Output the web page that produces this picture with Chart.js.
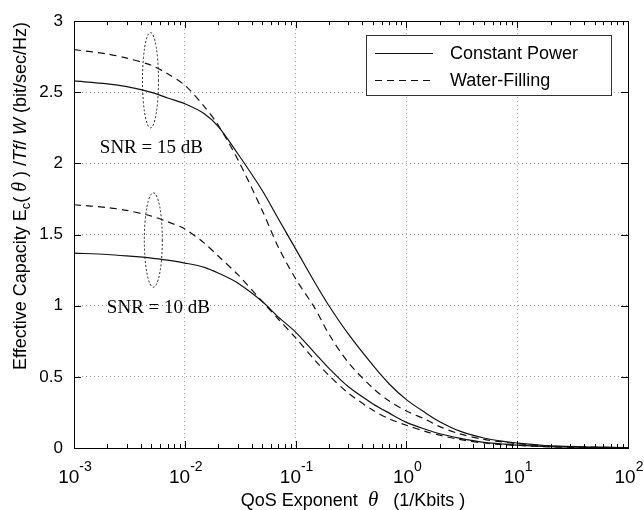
<!DOCTYPE html>
<html>
<head>
<meta charset="utf-8">
<script src="https://cdn.jsdelivr.net/npm/chart.js@4.4.0/dist/chart.umd.min.js"></script>
<style>
html, body { margin: 0; padding: 0; background: #fff; }
</style>
</head>
<body>
<canvas id="capacity-chart" width="644" height="510"></canvas>
<script>
// QoS exponent theta (1/Kbits)
const thetas = [0.001, 0.002, 0.003, 0.005, 0.007, 0.01, 0.015, 0.02, 0.03, 0.05, 0.07, 0.1, 0.15, 0.2, 0.3, 0.5, 0.7, 1, 1.5, 2, 3, 5, 7, 10, 20, 50, 100];

// effective capacity (bit/sec/Hz)
const cp15 = [2.58, 2.56, 2.54, 2.50, 2.46, 2.42, 2.35, 2.26, 2.07, 1.81, 1.61, 1.40, 1.16, 1.00, 0.80, 0.58, 0.45, 0.34, 0.245, 0.185, 0.12, 0.07, 0.05, 0.035, 0.015, 0.006, 0.003];
const wf15 = [2.80, 2.77, 2.74, 2.69, 2.63, 2.55, 2.40, 2.27, 2.03, 1.67, 1.41, 1.19, 0.98, 0.80, 0.60, 0.42, 0.33, 0.26, 0.20, 0.15, 0.10, 0.06, 0.045, 0.03, 0.013, 0.005, 0.003];
const cp10 = [1.37, 1.36, 1.35, 1.335, 1.32, 1.30, 1.27, 1.23, 1.16, 1.03, 0.92, 0.815, 0.665, 0.56, 0.43, 0.31, 0.245, 0.18, 0.13, 0.10, 0.07, 0.04, 0.03, 0.02, 0.009, 0.004, 0.002];
const wf10 = [1.71, 1.69, 1.67, 1.63, 1.59, 1.54, 1.44, 1.35, 1.22, 1.03, 0.905, 0.775, 0.615, 0.51, 0.385, 0.265, 0.205, 0.16, 0.115, 0.09, 0.06, 0.035, 0.025, 0.018, 0.008, 0.003, 0.002];

const yTicks = [0, 0.5, 1, 1.5, 2, 2.5, 3];
const xDecades = [-3, -2, -1, 0, 1, 2];
const legendLabels = ["Constant Power", "Water-Filling"];
const snrLabels = ["SNR = 15 dB", "SNR = 10 dB"];

const SANS = '"Liberation Sans", Arial, sans-serif';
const SERIF = '"Liberation Serif", "Times New Roman", serif';

function points(ys) {
    return thetas.map((t, i) => ({ x: t, y: ys[i] }));
}

function isDecade(v) {
    let e = Math.log10(v);
    return Math.abs(e - Math.round(e)) < 1e-6;
}

// all 1..9 x 10^n positions for the log axis
let xMinor = [];
for (let n = -3; n < 2; n++) {
    for (let k = 1; k < 10; k++) xMinor.push(k * Math.pow(10, n));
}
xMinor.push(100);

// draw a row of text pieces with their own fonts, centred on x
function drawRuns(ctx, runs, cx, y) {
    let total = 0;
    runs.forEach(r => { ctx.font = r.font; r.w = ctx.measureText(r.text).width; total += r.w; });
    let x = cx - total / 2;
    runs.forEach(r => {
        ctx.font = r.font;
        ctx.fillText(r.text, x, y + (r.dy || 0));
        x += r.w;
    });
}

const dashes = [7, 5];

const decorations = {
    id: 'decorations',
    afterDatasetsDraw(chart) {
        const ctx = chart.ctx;
        const a = chart.chartArea;
        const xs = chart.scales.x, ys = chart.scales.y;
        ctx.save();

        // frame
        ctx.strokeStyle = '#000';
        ctx.lineWidth = 1;
        ctx.setLineDash([]);
        ctx.strokeRect(Math.round(a.left) + 0.5, Math.round(a.top) + 0.5, Math.round(a.right - a.left), Math.round(a.bottom - a.top));

        // inward tick marks
        ctx.beginPath();
        xMinor.forEach(v => {
            let px = Math.round(xs.getPixelForValue(v)) + 0.5;
            let len = isDecade(v) ? 7 : 4;
            ctx.moveTo(px, a.bottom); ctx.lineTo(px, a.bottom - len);
            ctx.moveTo(px, a.top); ctx.lineTo(px, a.top + len);
        });
        yTicks.forEach(v => {
            let py = Math.round(ys.getPixelForValue(v)) + 0.5;
            ctx.moveTo(a.left, py); ctx.lineTo(a.left + 7, py);
            ctx.moveTo(a.right, py); ctx.lineTo(a.right - 7, py);
        });
        ctx.stroke();

        // x tick labels 10^n
        ctx.fillStyle = '#000';
        ctx.textBaseline = 'alphabetic';
        ctx.textAlign = 'left';
        xDecades.forEach(n => {
            let px = xs.getPixelForValue(Math.pow(10, n));
            ctx.font = '19px ' + SANS;
            let wb = ctx.measureText('10').width;
            ctx.font = '14px ' + SANS;
            let ws = ctx.measureText(String(n)).width;
            let x0 = px - (wb + ws) / 2 + 1;
            ctx.font = '19px ' + SANS;
            ctx.fillText('10', x0, 483);
            ctx.font = '14px ' + SANS;
            ctx.fillText(String(n), x0 + wb, 471);
        });

        // x title
        drawRuns(ctx, [
            { text: 'QoS Exponent ', font: '18px ' + SANS },
            { text: ' \u03B8', font: 'italic 21px ' + SERIF },
            { text: '   (1/Kbits )', font: '18px ' + SANS }
        ], (a.left + a.right) / 2 + 2, 506);

        // y title
        ctx.save();
        ctx.translate(26, 196);
        ctx.rotate(-Math.PI / 2);
        drawRuns(ctx, [
            { text: 'Effective Capacity E', font: '18px ' + SANS },
            { text: 'c', font: '13px ' + SANS, dy: 4 },
            { text: '( ', font: '18px ' + SANS },
            { text: '\u03B8', font: 'italic 20px ' + SERIF },
            { text: ' ) /', font: '18px ' + SANS },
            { text: 'Tf', font: 'italic 18px ' + SANS },
            { text: '/ ', font: '18px ' + SANS },
            { text: 'W', font: 'italic 18px ' + SANS },
            { text: ' (bit/sec/Hz)', font: '18px ' + SANS }
        ], 0, 0);
        ctx.restore();

        // dotted ellipses around each SNR pair
        const ann = chart.options.plugins.decorations;
        ctx.strokeStyle = '#222';
        ctx.setLineDash([2, 2]);
        ann.ellipses.forEach(e => {
            let cx = xs.getPixelForValue(e.x), cy = ys.getPixelForValue(e.y);
            let ry = Math.abs(ys.getPixelForValue(e.y + e.ry) - cy);
            ctx.beginPath();
            ctx.ellipse(cx, cy, e.rx, ry, 0, 0, Math.PI * 2);
            ctx.stroke();
        });

        // SNR labels
        ctx.setLineDash([]);
        ctx.font = '19px ' + SERIF;
        ctx.textBaseline = 'middle';
        ann.texts.forEach((t, i) => {
            ctx.fillText(snrLabels[i], xs.getPixelForValue(t.x), ys.getPixelForValue(t.y));
        });

        // legend
        const L = ann.legend;
        ctx.fillStyle = '#fff';
        ctx.fillRect(L.x, L.y, L.w, L.h);
        ctx.strokeStyle = '#333';
        ctx.lineWidth = 1;
        ctx.strokeRect(L.x + 0.5, L.y + 0.5, L.w, L.h);
        ctx.fillStyle = '#000';
        ctx.font = '18px ' + SANS;
        legendLabels.forEach((lab, i) => {
            let y = L.y + 18 + i * 27;
            ctx.strokeStyle = '#111';
            ctx.setLineDash(i === 0 ? [] : dashes);
            ctx.beginPath();
            ctx.moveTo(L.x + 9, y + 0.5);
            ctx.lineTo(L.x + 67, y + 0.5);
            ctx.stroke();
            ctx.fillText(lab, L.x + 84, y + 1);
        });
        ctx.restore();
    }
};

let capacityCanvas = document.getElementById("capacity-chart");

let capacityData = {
    datasets: [
        { label: legendLabels[0], data: points(cp15), borderColor: '#111', borderWidth: 1.2 },
        { label: legendLabels[1], data: points(wf15), borderColor: '#111', borderWidth: 1.2, borderDash: dashes },
        { label: legendLabels[0], data: points(cp10), borderColor: '#111', borderWidth: 1.2 },
        { label: legendLabels[1], data: points(wf10), borderColor: '#111', borderWidth: 1.2, borderDash: dashes }
    ]
};

let capacityOptions = {
    responsive: false,
    animation: false,
    devicePixelRatio: 1,
    layout: { padding: { top: 19, right: 16, left: 0, bottom: 0 } },
    elements: {
        point: { radius: 0 },
        line: { tension: 0.3, fill: false }
    },
    scales: {
        x: {
            type: 'logarithmic',
            min: 0.001,
            max: 100,
            afterBuildTicks: s => { s.ticks = xMinor.map(v => ({ value: v })); },
            afterFit: s => { s.height = 62; },
            ticks: { display: false },
            grid: {
                color: c => (c.tick && isDecade(c.tick.value)) ? '#9a9a9a' : 'rgba(0,0,0,0)',
                drawTicks: false,
                lineWidth: 1
            },
            border: { display: false, dash: [1, 3] }
        },
        y: {
            min: 0,
            max: 3,
            afterBuildTicks: s => { s.ticks = yTicks.map(v => ({ value: v })); },
            afterFit: s => { s.width = 74; },
            ticks: {
                color: '#000',
                padding: 11,
                font: { family: SANS, size: 17 },
                callback: v => String(v)
            },
            grid: { color: '#9a9a9a', drawTicks: false, lineWidth: 1 },
            border: { display: false, dash: [1, 3] }
        }
    },
    plugins: {
        legend: { display: false },
        tooltip: { enabled: false },
        decorations: {
            ellipses: [
                { x: 0.0049, y: 2.585, rx: 8, ry: 0.335 },
                { x: 0.0052, y: 1.462, rx: 9, ry: 0.332 }
            ],
            texts: [
                { x: 0.00171, y: 2.107 },
                { x: 0.00198, y: 0.984 }
            ],
            legend: { x: 366, y: 35, w: 245, h: 60 }
        }
    }
};

let capacityChart = new Chart(capacityCanvas, {
    type: 'line',
    data: capacityData,
    options: capacityOptions,
    plugins: [decorations]
});
</script>
</body>
</html>
